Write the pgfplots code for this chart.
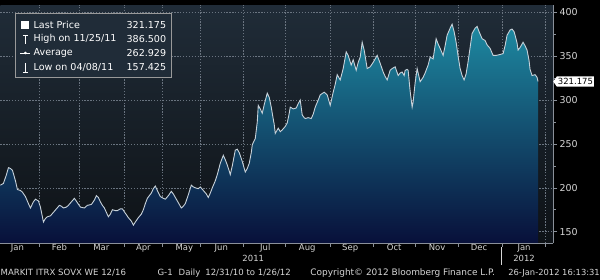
\documentclass[border=0pt]{standalone}
\usepackage{pgfplots}
\pgfplotsset{compat=1.18}
\usepackage{pgfplotstable}
\usepackage{fontspec}
\setmainfont{DejaVu Sans}
\usetikzlibrary{shapes.symbols}
\definecolor{bgtop}{HTML}{202C38}
\definecolor{bgbot}{HTML}{0E1216}
\definecolor{filltop}{HTML}{1E8AA2}
\definecolor{fillmid}{HTML}{135478}
\definecolor{fillbot}{HTML}{08103A}
\definecolor{gridc}{HTML}{6A7480}
\definecolor{linec}{HTML}{C8D2DA}
\definecolor{txt}{HTML}{D6D6D6}
\definecolor{axc}{HTML}{8A9099}

\pgfplotstableread{
x v
0 203
3 205
6 215
8 223
10 222
12 220
15 208
17 198
20 197
22 195
25 190
28 182
30 177
33 184
35 187
38 185
40 178
43 161
45 165
47 167
50 168
53 172
56 176
59 180
61 179
63 177
66 178
68 180
71 184
74 188
77 183
80 178
84 177
87 180
91 181
94 186
96 191
98 189
100 184
102 180
104 177
106 172
108 167
110 170
112 175
115 174
117 174
120 176
122 176
125 171
128 166
131 162
133 157.4
135 161
138 166
141 170
143 175
145 182
147 188
149 191
151 194
153 199
155 202
157 197
160 190
163 188
165 187
168 191
171 196
173 193
175 189
178 183
181 177
183 179
185 182
188 192
191 203
193 201
195 200
198 199
200 201
203 197
206 193
208 189
210 194
212 200
215 208
217 215
220 228
223 237
225 232
227 226
229 219
230 215
232 225
235 243
237 244
239 240
242 230
245 218
247 222
249 228
251 240
252 249
254 254
255 256
257 275
258 294
260 290
262 285
264 295
267 308
269 303
271 292
272 285
274 272
275 262
277 266
278 268
280 264
282 266
285 270
287 274
289 285
290 292
293 290
296 291
298 296
300 300
302 283
304 280
305 279
308 280
311 279
313 284
315 292
318 300
320 306
324 309
327 306
330 294
333 309
335 318
337 329
340 323
343 336
346 355
348 351
351 340
353 346
356 334
358 343
360 349
362 366
364 357
367 336
370 338
373 343
377 351
380 342
383 332
385 327
387 323
390 334
392 336
395 338
398 328
400 331
402 332
404 328
405 334
407 335
408 334
410 310
412 292
413 298
415 320
417 336
420 321
423 326
425 331
428 340
430 349
433 347
436 370
438 364
440 359
443 351
445 362
447 374
450 382
452 386.5
454 378
456 366
458 350
460 336
462 328
464 323
466 330
468 344
470 360
472 376
475 382
477 384
479 378
482 370
485 368
487 363
490 359
493 351
496 351
500 352
503 353
505 362
507 374
510 380
512 381
514 378
515 374
517 365
518 357
520 360
523 366
525 362
527 357
529 345
530 335
532 328
535 329
537 326
538 321.175
}\pricedata

\begin{document}
\begin{tikzpicture}[x=1bp,y=1bp]
\fill[black] (0,0) rectangle (600,280);
\begin{axis}[
  at={(0,42)}, anchor=south west,
  scale only axis, width=553bp, height=238bp,
  xmin=0, xmax=553, ymin=137.1, ymax=408.3,
  clip=false,
  axis background/.style={top color=bgtop, bottom color=bgbot},
  axis x line*=bottom, axis y line*=right,
  axis line style={draw=axc, line width=0.6pt},
  xtick={39,79,124,162,200,243,285,330,373,415,458,502,545},
  xticklabels={},
  extra x ticks={17,59,101,143,184,221,265,307,350,394,437,479,524},
  extra x tick labels={Jan,Feb,Mar,Apr,May,Jun,Jul,Aug,Sep,Oct,Nov,Dec,Jan},
  extra x tick style={grid=none, major tick length=0pt,
     xticklabel style={font=\fontsize{8.5}{10}\selectfont, text=txt, yshift=2bp}},
  ytick={150,200,...,400},
  minor ytick={175,225,...,375},
  yticklabel style={font=\fontsize{9.5}{11}\selectfont, text=txt, xshift=-1bp},
  /pgf/number format/assume math mode=true,
  tick align=outside,
  major tick length=4bp, minor tick length=2.5bp,
  tick style={draw=axc, line width=0.6pt},
  grid=major,
  major grid style={draw=gridc, line width=0.6pt, dash pattern=on 1.3bp off 1.6bp},
]
\addplot[draw=none, top color=filltop, middle color=fillmid, bottom color=fillbot]
  table[x=x, y=v] {\pricedata} \closedcycle;
\addplot[draw=linec, line width=0.9pt] table[x=x, y=v] {\pricedata};
\node[signal, signal to=west, signal pointer angle=110, fill=white, text=black,
      font=\fontsize{8.5}{10}\selectfont, inner xsep=1bp, inner ysep=2bp, anchor=west]
  at (axis cs:553,321.175) {321.175};
\end{axis}
% legend
\fill[bgtop] (15,267) rectangle (171,203);
\draw[gray!80, line width=0.6pt] (15,267) rectangle (171,203);
\begin{scope}[every node/.style={font=\fontsize{9.6}{11}\selectfont, text=white, inner sep=0pt}]
\fill[white] (21,251) rectangle (29,259);
\node[anchor=west] at (33,255) {Last Price};
\node[anchor=east] at (166,255) {321.175};
\draw[white, line width=0.7pt] (25,236) -- (25,245) (22.5,245) -- (27.5,245);
\node[anchor=west] at (33,241) {High on 11/25/11};
\node[anchor=east] at (166,241) {386.500};
\draw[white, line width=0.7pt] (20,227) -- (30,227);
\fill[white] (25,227) circle (1.4);
\node[anchor=west] at (33,227) {Average};
\node[anchor=east] at (166,227) {262.929};
\draw[white, line width=0.7pt] (25,208) -- (25,217) (22.5,208) -- (27.5,208);
\node[anchor=west] at (33,213) {Low on 04/08/11};
\node[anchor=east] at (166,213) {157.425};
\end{scope}
% year labels and footer
\begin{scope}[every node/.style={text=txt, inner sep=0pt}]
\node[font=\fontsize{8.5}{10}\selectfont] at (253,21) {2011};
\node[font=\fontsize{8.5}{10}\selectfont] at (524,21) {2012};
\draw[txt, line width=0.6pt] (501,15) -- (501,33);
\node[anchor=west, font=\fontsize{8.6}{9}\selectfont] at (0,7) {MARKIT ITRX SOVX WE 12/16};
\node[anchor=west, font=\fontsize{8.6}{9}\selectfont] at (157,7) {G-1\hspace{6bp}Daily\hspace{5bp}12/31/10 to 1/26/12};
\node[anchor=west, font=\fontsize{9}{9}\selectfont] at (310,7) {Copyright\textcopyright\ 2012 Bloomberg Finance L.P.};
\node[anchor=east, font=\fontsize{8.4}{9}\selectfont] at (600,7) {26-Jan-2012 16:13:31};
\end{scope}
\end{tikzpicture}
\end{document}
